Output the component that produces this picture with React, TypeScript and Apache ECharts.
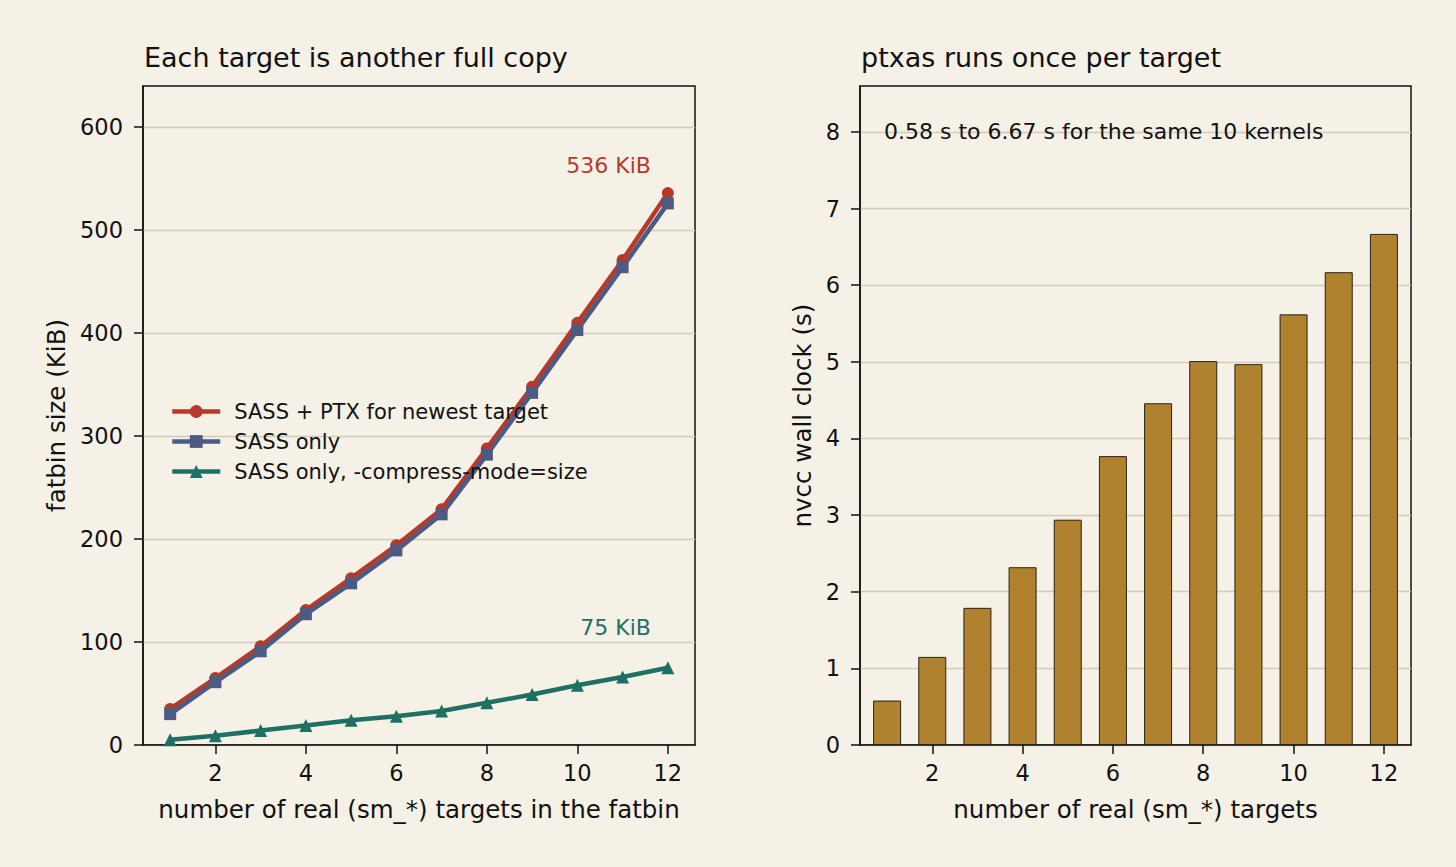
import React, { useEffect, useRef } from "react";
import * as echarts from "echarts";

// Number of real sm_* targets compiled into the fatbin
const targets = [1, 2, 3, 4, 5, 6, 7, 8, 9, 10, 11, 12];

// Fatbin size (KiB) per configuration
const sassPlusPtx = [35, 65, 96, 131, 162, 194, 229, 288, 348, 410, 471, 536];
const sassOnly = [30, 61, 91, 127, 157, 189, 224, 282, 342, 403, 464, 526];
const sassCompressed = [5, 9, 14, 19, 24, 28, 33, 41, 49, 58, 66, 75];

// nvcc wall-clock time (s)
const wallClock = [0.58, 1.15, 1.79, 2.32, 2.94, 3.77, 4.46, 5.01, 4.97, 5.62, 6.17, 6.67];

const xTicks = [2, 4, 6, 8, 10, 12];
const sizeTicks = [0, 100, 200, 300, 400, 500, 600];
const timeTicks = [0, 1, 2, 3, 4, 5, 6, 7, 8];

const FONT = "DejaVu Sans";
const BG = "#F5F1E7";
const INK = "#111111";
const GRID = "#D6CCB6";
const RED = "#B53A2B";
const BLUE = "#4C5B83";
const GREEN = "#1F6F64";
const BAR = "#B08230";

export default function App() {
  const ref = useRef<HTMLDivElement>(null);

  useEffect(() => {
    if (!ref.current) return;
    const chart = echarts.init(ref.current, undefined, { renderer: "svg" });

    const pair = (ys: number[]) => targets.map((x, i) => [x, ys[i]]);

    const xAxisBase = (gridIndex: number, name: string) => ({
      type: "value",
      gridIndex,
      min: 0.4,
      max: 12.6,
      name,
      nameLocation: "middle",
      nameGap: 52,
      nameTextStyle: { fontFamily: FONT, fontSize: 24.5, color: INK },
      axisLine: { show: true, lineStyle: { color: INK, width: 1.5 } },
      axisTick: { show: true, length: 9, lineStyle: { color: INK, width: 1.5 }, customValues: xTicks },
      axisLabel: { fontFamily: FONT, fontSize: 22.5, color: INK, margin: 16, customValues: xTicks },
      splitLine: { show: false },
    });

    const yAxisBase = (gridIndex: number, max: number, interval: number, ticks: number[], name: string, nameGap: number) => ({
      type: "value",
      gridIndex,
      min: 0,
      max,
      interval,
      name,
      nameLocation: "middle",
      nameGap,
      nameTextStyle: { fontFamily: FONT, fontSize: 24.5, color: INK },
      axisLine: { show: true, lineStyle: { color: INK, width: 1.5 } },
      axisTick: { show: true, length: 9, lineStyle: { color: INK, width: 1.5 }, customValues: ticks },
      axisLabel: { fontFamily: FONT, fontSize: 22.5, color: INK, margin: 20, customValues: ticks },
      splitLine: { show: true, lineStyle: { color: GRID, width: 1.3 } },
    });

    const lineSeries = (name: string, ys: number[], color: string, symbol: string, symbolSize: number, endLabel?: { text: string; dy: number }) => {
      const data: any[] = pair(ys);
      if (endLabel) {
        const last = data.length - 1;
        data[last] = {
          value: data[last],
          label: {
            show: true,
            formatter: endLabel.text,
            position: "top",
            align: "right",
            offset: [-17, endLabel.dy],
            color,
            fontFamily: FONT,
            fontSize: 22,
          },
        };
      }
      return {
        type: "line",
        name,
        xAxisIndex: 0,
        yAxisIndex: 0,
        data,
        symbol,
        symbolSize,
        color,
        lineStyle: { color, width: 4.5 },
        itemStyle: { color },
        z: 3,
      };
    };

    chart.setOption({
      animation: false,
      backgroundColor: BG,
      textStyle: { fontFamily: FONT },
      title: [
        {
          text: "Each target is another full copy",
          left: 144,
          top: 44,
          padding: 0,
          textStyle: { fontFamily: FONT, fontSize: 27, fontWeight: "normal", color: INK },
        },
        {
          text: "ptxas runs once per target",
          left: 861,
          top: 44,
          padding: 0,
          textStyle: { fontFamily: FONT, fontSize: 27, fontWeight: "normal", color: INK },
        },
      ],
      legend: {
        orient: "vertical",
        left: 170,
        top: 401,
        padding: 0,
        itemWidth: 48,
        itemHeight: 16,
        itemGap: 9,
        lineStyle: { width: 4.5 },
        textStyle: { fontFamily: FONT, fontSize: 21, color: INK, padding: [0, 0, 0, 9], lineHeight: 20 },
        data: ["SASS + PTX for newest target", "SASS only", "SASS only, -compress-mode=size"],
      },
      grid: [
        { left: 143, top: 86, width: 552, height: 659, show: true, borderColor: INK, borderWidth: 1.5, backgroundColor: "transparent" },
        { left: 860, top: 86, width: 551, height: 659, show: true, borderColor: INK, borderWidth: 1.5, backgroundColor: "transparent" },
      ],
      xAxis: [
        xAxisBase(0, "number of real (sm_*) targets in the fatbin"),
        xAxisBase(1, "number of real (sm_*) targets"),
      ],
      yAxis: [
        yAxisBase(0, 640, 100, sizeTicks, "fatbin size (KiB)", 74),
        yAxisBase(1, 8.6, 1, timeTicks, "nvcc wall clock (s)", 45),
      ],
      series: [
        lineSeries("SASS + PTX for newest target", sassPlusPtx, RED, "circle", 12, { text: "536 KiB", dy: -6 }),
        lineSeries("SASS only", sassOnly, BLUE, "rect", 12),
        lineSeries("SASS only, -compress-mode=size", sassCompressed, GREEN, "triangle", 13, { text: "75 KiB", dy: -18 }),
        {
          type: "bar",
          name: "wall clock",
          xAxisIndex: 1,
          yAxisIndex: 1,
          data: pair(wallClock),
          barWidth: 28,
          itemStyle: { color: BAR, borderColor: "#2A2212", borderWidth: 1 },
          z: 3,
        },
      ],
      graphic: [
        {
          type: "text",
          left: 884,
          top: 120,
          style: {
            text: "0.58 s to 6.67 s for the same 10 kernels",
            fontFamily: FONT,
            fontSize: 22,
            fill: INK,
          },
          z: 10,
        },
      ],
    });

    return () => chart.dispose();
  }, []);

  return (
    <div
      ref={ref}
      style={{ position: "fixed", left: 0, top: 0, width: 1456, height: 867, background: BG }}
    />
  );
}
